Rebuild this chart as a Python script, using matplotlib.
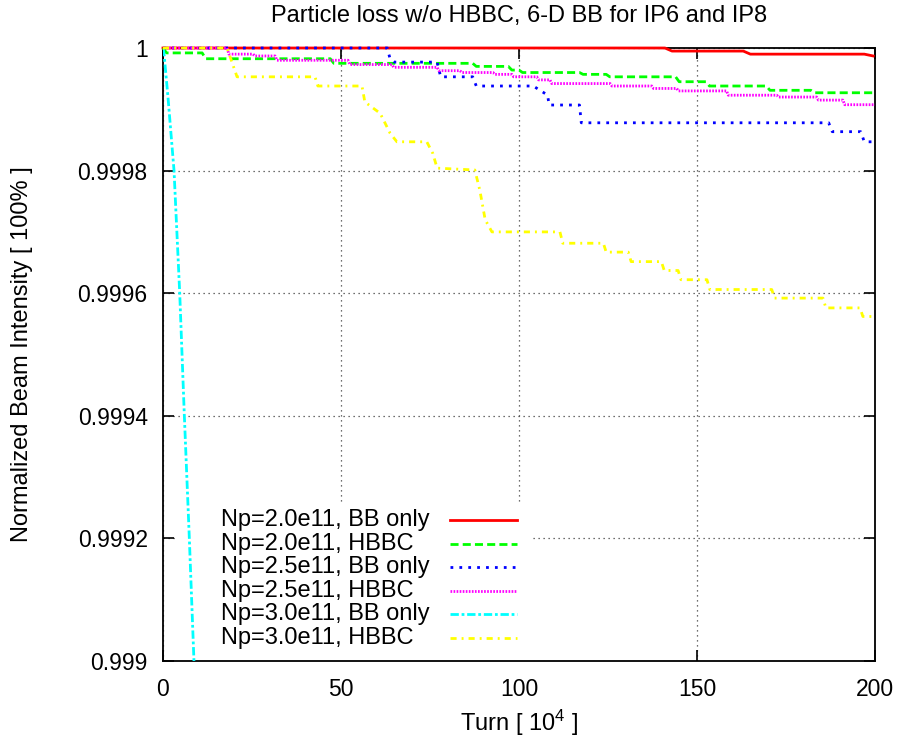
import matplotlib
matplotlib.use("Agg")
import matplotlib.pyplot as plt
from matplotlib.lines import Line2D
from matplotlib.patches import Rectangle
from matplotlib.ticker import FuncFormatter

plt.rcParams['font.family'] = ['Liberation Sans', 'DejaVu Sans']
plt.rcParams['mathtext.fontset'] = 'custom'
plt.rcParams['mathtext.rm'] = 'Liberation Sans'
plt.rcParams['mathtext.default'] = 'regular'

# turn number in units of 1e4, normalized beam intensity
turn_bb20 = [0, 141, 143, 163, 165, 197, 199.5]
int_bb20 = [1.0, 1.0, 0.999995, 0.999995, 0.99999, 0.99999, 0.999987]

turn_hb20 = [0, 1, 11, 12, 47, 48, 87, 88, 97, 98, 100, 101, 117, 118, 124.5, 125.5,
             144, 145, 152.5, 153.5, 169.5, 170.5, 182, 183, 200]
int_hb20 = [1.0, 0.999992, 0.999992, 0.9999825, 0.9999825, 0.999975, 0.999975, 0.99997,
            0.99997, 0.999964, 0.999964, 0.99996, 0.99996, 0.999957, 0.999957, 0.999953,
            0.999953, 0.999945, 0.999945, 0.999938, 0.999938, 0.999931, 0.999931, 0.999927,
            0.999927]

turn_bb25 = [0, 63, 63.8, 65, 77, 78, 87, 88, 104, 108, 108.5, 117, 117.5, 187, 188,
             196, 197, 200]
int_bb25 = [1.0, 1.0, 0.999982, 0.999977, 0.999977, 0.999953, 0.999953, 0.999938, 0.999938,
            0.9999233, 0.999907, 0.999907, 0.999878, 0.999878, 0.9998635, 0.9998635,
            0.999847, 0.999847]

turn_hb25 = [0, 18, 18.5, 25.3, 25.8, 31.5, 32, 52, 52.5, 64.3, 64.8, 77, 77.5, 83.4, 84,
             92.7, 93.2, 98, 98.5, 105, 105.5, 108.7, 109.2, 125.6, 126.1, 137.3, 137.8,
             144.3, 144.8, 158.3, 158.8, 172.4, 172.9, 183.6, 184.1, 191, 191.5, 200]
int_hb25 = [1.0, 1.0, 0.99999, 0.99999, 0.999987, 0.999987, 0.99998, 0.99998, 0.999973,
            0.999973, 0.9999685, 0.9999685, 0.999963, 0.999963, 0.99996, 0.99996, 0.999957,
            0.999957, 0.999953, 0.999953, 0.999948, 0.999948, 0.999942, 0.999942, 0.999938,
            0.999938, 0.999934, 0.999934, 0.99993, 0.99993, 0.999923, 0.999923, 0.99992,
            0.99992, 0.999915, 0.999915, 0.9999075, 0.9999075]

turn_bb30 = [0, 0.3, 1.4, 3.1, 4.7, 6.0, 7.4, 8.7, 9.5]
int_bb30 = [1.0, 0.99999, 0.99992, 0.9998, 0.9996, 0.9994, 0.9992, 0.999, 0.99898]

turn_hb30 = [0, 18, 20.8, 42.7, 43.5, 55.9, 56.7, 61, 63.8, 65.7, 74.1, 75.8, 77, 87.6, 89,
             90.5, 92.4, 111.5, 112.3, 123.7, 124.5, 130.7, 131.5, 140, 140.8, 144.7, 145.5,
             152.8, 153.6, 171, 171.8, 185.4, 186.2, 195.8, 196.6, 200]
int_hb30 = [1.0, 1.0, 0.999953, 0.999953, 0.999938, 0.999938, 0.999912, 0.9998935, 0.999861,
            0.999847, 0.999847, 0.999828, 0.999804, 0.999801, 0.999768, 0.99972, 0.9997,
            0.9997, 0.9996815, 0.9996815, 0.999667, 0.999667, 0.9996515, 0.9996515, 0.999637,
            0.999637, 0.999622, 0.999622, 0.999606, 0.999606, 0.999592, 0.999592, 0.999576,
            0.999576, 0.999562, 0.999562]

labels = ['Np=2.0e11, BB only', 'Np=2.0e11, HBBC', 'Np=2.5e11, BB only',
          'Np=2.5e11, HBBC', 'Np=3.0e11, BB only', 'Np=3.0e11, HBBC']

x_ticks = [0, 50, 100, 150, 200]
y_ticks = [0.999, 0.9992, 0.9994, 0.9996, 0.9998, 1.0]

FS = 17

fig = plt.figure(figsize=(9, 7.42), dpi=100)
ax = fig.add_axes([0.1811, 0.1092, 0.7911, 0.8261])

lw = 2.0
styles = [
    dict(color='#ff0000', ls='-'),
    dict(color='#00ff00', ls=(0, (2.9, 1.5))),
    dict(color='#0000ff', ls=(0, (1.0, 2.2))),
    dict(color='#ff00ff', ls=(0, (0.6, 0.5))),
    dict(color='#00ffff', ls=(0, (3.0, 1.0, 1.0, 1.0))),
    dict(color='#ffff00', ls=(0, (2.2, 1.8, 0.7, 1.8))),
]
series = [(turn_bb20, int_bb20), (turn_hb20, int_hb20), (turn_bb25, int_bb25),
          (turn_hb25, int_hb25), (turn_bb30, int_bb30), (turn_hb30, int_hb30)]

# only the fast-dropping curve leaves the y range, so only it gets clipped
for i, ((tx, iy), st) in enumerate(zip(series, styles)):
    ax.plot(tx, iy, lw=lw, zorder=3, clip_on=(i == 4), **st)

ax.set_xlim(0, 200)
ax.set_ylim(0.999, 1.0)
ax.set_xticks(x_ticks)
ax.set_yticks(y_ticks)
ax.yaxis.set_major_formatter(FuncFormatter(lambda v, p: '%g' % round(v, 6)))
ax.tick_params(direction='in', length=8, width=1.2, top=True, right=True,
               labelsize=16.5)
ax.tick_params(axis='x', pad=12)
ax.tick_params(axis='y', pad=11)
for s in ax.spines.values():
    s.set_linewidth(1.3)

ax.set_axisbelow(True)
ax.grid(True, color='#404040', lw=0.9, ls=(0, (1, 3)))

ax.set_title('Particle loss w/o HBBC, 6-D BB for IP6 and IP8', fontsize=FS, pad=19)
ax.set_xlabel(r'Turn [ 10$^4$ ]', fontsize=FS)
ax.set_ylabel('Normalized Beam Intensity [ 100% ]', fontsize=FS)
ax.xaxis.set_label_coords(0.5, -0.077)
ax.yaxis.set_label_coords(-0.182, 0.5)

# key: text on the left, line sample on the right, blank box hides the grid
ax.add_patch(Rectangle((0.018, 0.0), 0.50, 0.255, transform=ax.transAxes,
                       facecolor='white', edgecolor='none', zorder=1.5))
row_y = [0.230 - 0.0385 * k for k in range(len(labels))]
for lab, st, yy in zip(labels, styles, row_y):
    ax.text(0.0815, yy, lab, transform=ax.transAxes, fontsize=FS,
            ha='left', va='center', zorder=4)
    ax.add_line(Line2D([0.403, 0.497], [yy, yy], transform=ax.transAxes,
                       lw=lw, zorder=4, **st))

fig.savefig('out.png', dpi=100)
